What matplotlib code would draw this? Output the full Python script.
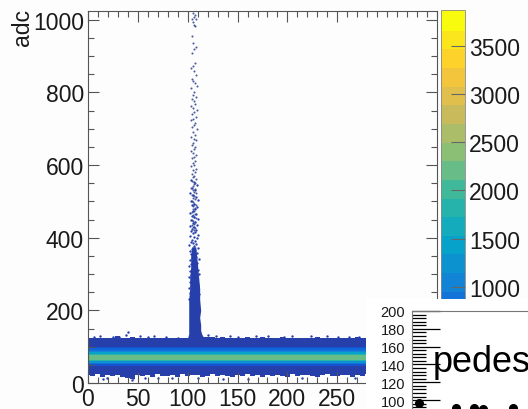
import numpy as np
import matplotlib
matplotlib.use("Agg")
import matplotlib.pyplot as plt
from matplotlib.colors import LinearSegmentedColormap, ListedColormap, BoundaryNorm
from matplotlib.ticker import MultipleLocator

plt.rcParams['font.family'] = ['Liberation Sans', 'DejaVu Sans']

W, H = 528, 410

# --- data ---
# pedestal band profile (counts per adc bin, same for all channels)
adc_edges = [24, 28, 32, 36, 40, 44, 48, 52, 56, 60, 64, 68, 72, 76, 80, 84, 88,
             92, 96, 100, 104, 108, 112, 116, 120, 124]
band_counts = [250, 250, 250, 250, 250, 350, 500, 800, 1300, 1900, 2200, 2300, 2200,
               1900, 1400, 1100, 850, 650, 450, 280, 250, 250, 250, 250, 250]

# fuzzy band edges, every 5 channels
env_channels = list(range(0, 285, 5))
env_upper = [119, 118, 123, 121, 119, 124, 129, 122, 120, 127, 119, 122, 121, 118, 124,
             122, 120, 125, 123, 121, 119, 122, 124, 126, 128, 127, 124, 126, 122, 125,
             121, 124, 128, 123, 120, 126, 122, 121, 124, 127, 122, 119, 125, 121, 123,
             120, 126, 122, 124, 121, 125, 122, 120, 123, 126, 121, 123]
env_lower = [22, 18, 24, 16, 21, 19, 23, 17, 14, 11, 23, 18, 21, 16, 24, 20, 18, 22, 17,
             24, 19, 21, 23, 17, 20, 24, 18, 22, 19, 16, 23, 20, 24, 18, 21, 17, 23, 19,
             22, 20, 16, 24, 18, 21, 23, 19, 17, 22, 24, 20, 18, 23, 21, 17, 22, 19, 24]

# solid part of the spike above channel ~106
spike_adc = [115, 125, 135, 145, 160, 180, 200, 230, 260, 290, 320, 350, 375]
spike_left = [99, 100, 101, 101, 101, 101, 101, 101, 102, 102, 103, 103, 104]
spike_right = [120, 116, 114, 113, 113, 112, 113, 112, 112, 111, 110, 109, 108]

# hits along the spike, sparse part
hit_channel = [105, 107, 106, 104, 108, 105, 106, 107, 104, 105, 108, 106, 104, 107, 105,
               103, 106, 108, 104, 105, 107, 109, 103, 106, 105, 108, 104, 106, 107, 103,
               105, 109, 106, 104, 108, 105, 103, 107, 106, 104, 109, 105, 107, 103, 106,
               108, 105, 104, 107, 106, 103, 105, 108, 106, 104, 107, 105, 106, 103, 108,
               105, 107, 104, 106, 105, 108, 104, 107, 106, 105, 103, 107, 105, 106, 108,
               104, 106, 105, 107, 104, 105, 106, 108, 105, 107, 105, 106, 104, 107, 105,
               106, 108, 104, 105, 107, 106, 104, 105, 107, 106]
hit_adc = [1018, 1012, 1008, 1003, 1001, 995, 985, 982, 955, 935, 925, 920, 908, 880, 872,
           868, 860, 848, 836, 830, 826, 818, 812, 800, 793, 788, 782, 775, 769, 762,
           758, 752, 745, 740, 733, 728, 724, 716, 711, 704, 698, 690, 684, 678, 672,
           668, 661, 655, 650, 644, 640, 634, 628, 622, 618, 611, 606, 600, 596, 590,
           585, 580, 575, 570, 566, 561, 556, 551, 547, 543, 538, 534, 530, 526, 522,
           518, 514, 510, 506, 502, 498, 494, 490, 486, 482, 478, 474, 470, 466, 462,
           458, 454, 450, 446, 442, 438, 434, 430, 426, 422]

# hits along the spike, dense mottled part
dense_channel = [103, 106, 109, 104, 107, 102, 105, 108, 110, 103, 106, 104, 109, 107, 105,
                 102, 108, 104, 106, 110, 103, 107, 105, 109, 102, 106, 104, 108, 103, 107,
                 105, 110, 102, 106, 109, 104, 107, 103, 105, 108, 101, 106, 110, 104, 107,
                 102, 105, 109, 103, 106, 108, 104, 111, 102, 107, 105, 109, 103, 106, 101,
                 108, 104, 110, 102, 106, 105, 111, 103, 107, 101, 109, 104, 106, 102, 108,
                 105, 110, 103, 107, 101, 106, 109, 104, 102, 111, 105, 108, 103, 107, 101]
dense_adc = [560, 552, 545, 537, 530, 524, 517, 511, 505, 500, 494, 489, 484, 479, 474,
             469, 465, 460, 456, 452, 448, 444, 440, 436, 433, 429, 425, 422, 418, 415,
             412, 408, 405, 402, 398, 395, 392, 388, 385, 382, 379, 376, 372, 369, 366,
             363, 360, 357, 354, 351, 348, 345, 342, 339, 336, 333, 330, 327, 324, 321,
             318, 315, 312, 309, 306, 303, 300, 297, 294, 291, 288, 285, 282, 279, 276,
             273, 270, 267, 264, 261, 258, 255, 252, 249, 246, 243, 240, 237, 234, 231]

# stray hits off the band
stray_channel = [12, 25, 38, 40, 52, 60, 78, 120, 128, 150, 168, 205, 240, 262, 44, 45, 19, 70,
                 135, 6, 31, 66, 90, 142, 181, 197, 224, 251, 272, 15, 57, 84, 110, 160, 215, 268]
stray_adc = [129, 127, 131, 140, 129, 127, 128, 131, 129, 128, 130, 130, 129, 128, 8, 14, 13, 14,
             11, 127, 126, 129, 125, 129, 130, 127, 130, 128, 128, 12, 13, 15, 14, 12, 14, 13]

# inset
ped_channel = [7, 44, 62, 71, 101]
ped_value = [96.5, 91, 91, 90.5, 91.5]
inset_ticks = [100, 120, 140, 160, 180, 200]

colorbar_ticks = [1000, 1500, 2000, 2500, 3000, 3500]
x_ticks = [0, 50, 100, 150, 200, 250]
y_ticks = [0, 200, 400, 600, 800, 1000]

# ROOT kBird palette, 20 contours
bird_r = [0.2082, 0.0592, 0.0780, 0.0232, 0.1802, 0.5301, 0.8186, 0.9956, 0.9764]
bird_g = [0.1664, 0.3599, 0.5041, 0.6419, 0.7178, 0.7492, 0.7328, 0.7862, 0.9832]
bird_b = [0.5293, 0.8684, 0.8385, 0.7914, 0.6425, 0.4662, 0.3499, 0.1968, 0.0539]
bird = LinearSegmentedColormap.from_list("bird", list(zip(bird_r, bird_g, bird_b)))
cmap = ListedColormap(bird(np.linspace(0.0, 1, 20)))
levels = np.linspace(0, 3875, 21)
norm = BoundaryNorm(levels, 20)
dark = cmap(1)
text_col = '#1a1a1a'


def box(left, top, right, bottom):
    # pixel box -> figure fraction
    return [left / W, 1 - bottom / H, (right - left) / W, (bottom - top) / H]


fig = plt.figure(figsize=(W / 100, H / 100), dpi=100, facecolor='#fdfdfd')

ax = fig.add_axes(box(88, 12, 437, 384), facecolor='#fdfdfd')
ax.fill_between(env_channels, env_lower, env_upper, step='mid', color=dark, lw=0)
ax.fill_betweenx(spike_adc, spike_left, spike_right, color=dark, lw=0)
mesh = ax.pcolormesh([0, 350], adc_edges, np.array(band_counts)[:, None], cmap=cmap, norm=norm)
ax.scatter(hit_channel, hit_adc, s=2.2, color='#2a3f8f', lw=0, alpha=0.85)
ax.scatter(dense_channel, dense_adc, s=2.8, color=dark, lw=0)
ax.scatter(stray_channel, stray_adc, s=3, color=dark, lw=0)

ax.set_xlim(0, 350)
ax.set_ylim(0, 1024)
ax.set_xticks(x_ticks)
ax.set_yticks(y_ticks)
ax.xaxis.set_minor_locator(MultipleLocator(10))
ax.yaxis.set_minor_locator(MultipleLocator(50))
ax.tick_params(which='major', direction='in', top=True, right=True, length=8, width=0.8,
               color='#555555', labelsize=16.5, labelcolor=text_col, pad=3)
ax.tick_params(which='minor', direction='in', top=True, right=True, length=4, width=0.8,
               color='#555555')
ax.tick_params(axis='x', pad=3)
for s in ax.spines.values():
    s.set_color('#555555')
    s.set_linewidth(0.8)
fig.text(22 / W, 1 - 9 / H, "adc", rotation=90, ha='center', va='top', fontsize=16.5, color=text_col)

cax = fig.add_axes(box(441, 11, 465, 384))
cb = fig.colorbar(mesh, cax=cax, ticks=colorbar_ticks, spacing='proportional')
cb.solids.set_edgecolor('face')
cb.outline.set_edgecolor('#888888')
cb.outline.set_linewidth(0.6)
cax.minorticks_off()
cax.tick_params(direction='in', length=10, width=0.8, color='#666666', labelsize=16.5,
                labelcolor=text_col, pad=3)

# white pad of the overlaid pedestal plot
cover = fig.add_axes(box(366, 300, W, H), facecolor='white', zorder=5)
cover.set_axis_off()
cover.add_patch(plt.Rectangle((0, 0), 1, 1, color='white'))

inset = fig.add_axes(box(412, 312, W, H), facecolor='white', zorder=6)
inset.plot(ped_channel, ped_value, 'o', color='black', ms=5.5, clip_on=True)
inset.set_xlim(0, 116)
inset.set_ylim(90, 200)
inset.set_yticks(inset_ticks)
inset.yaxis.set_minor_locator(MultipleLocator(4))
inset.set_xticks([])
inset.tick_params(axis='y', which='major', direction='in', length=20, width=0.9, labelsize=10.5,
                  labelcolor=text_col, pad=5)
inset.tick_params(axis='y', which='minor', direction='in', length=10, width=0.9)
inset.spines['right'].set_visible(False)
inset.spines['bottom'].set_visible(False)
inset.spines['left'].set_color('#777777')
inset.spines['top'].set_color('#777777')
inset.text(21, 133, "pedes", fontsize=26, ha='left', va='baseline', clip_on=True)

fig.savefig("out.png", dpi=100, facecolor=fig.get_facecolor())
